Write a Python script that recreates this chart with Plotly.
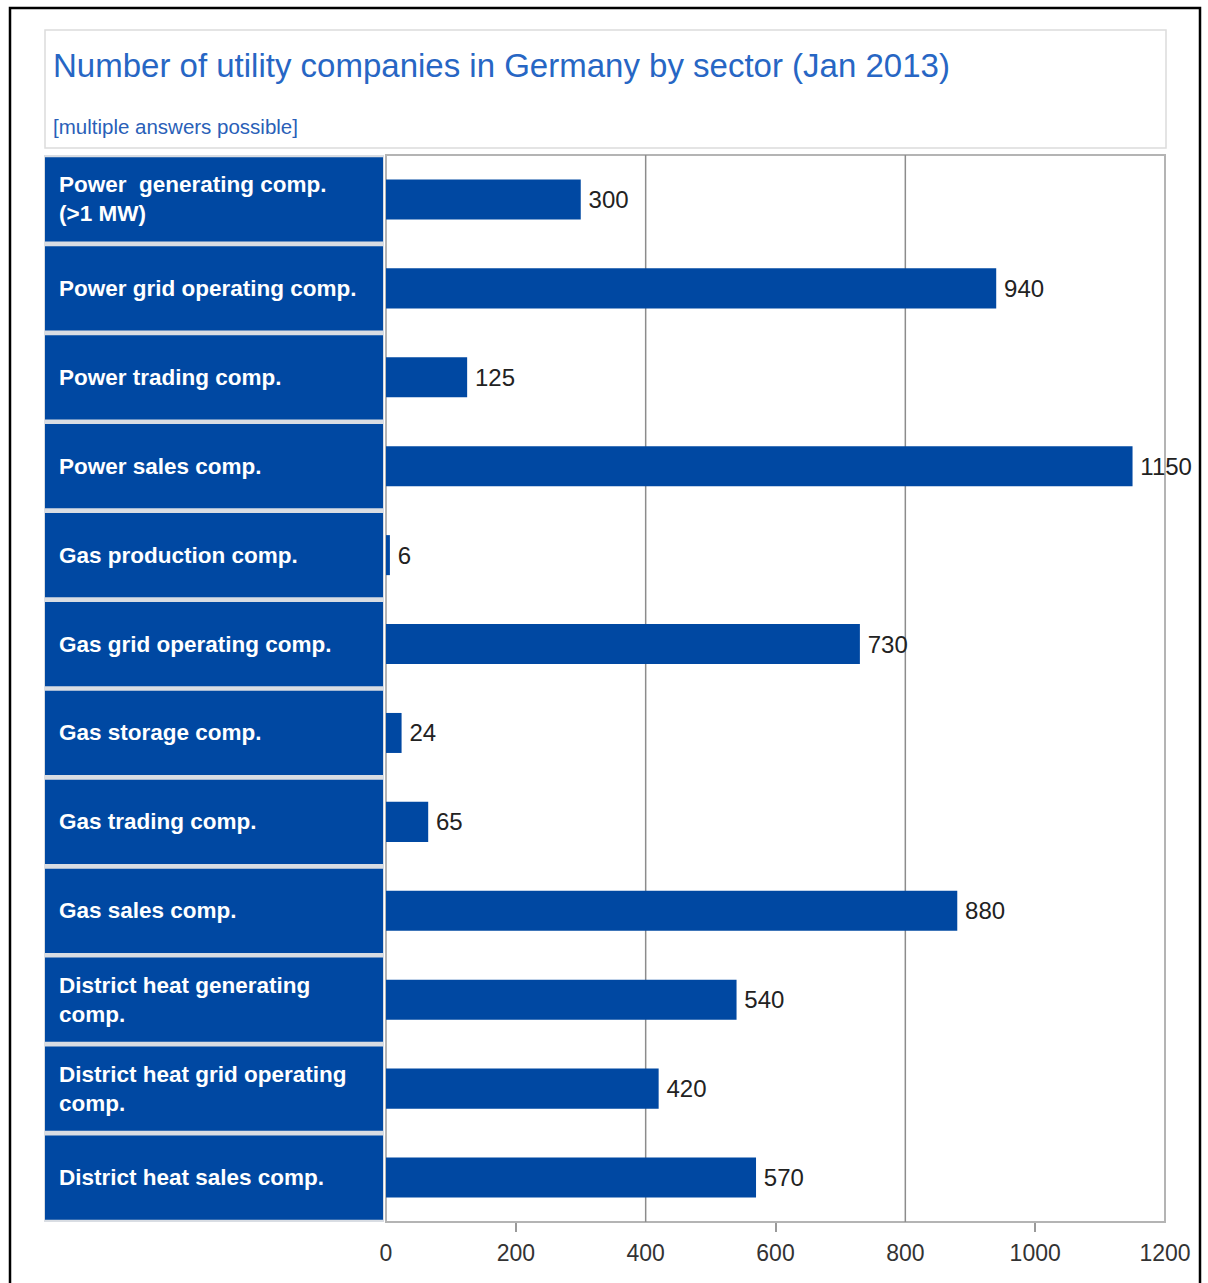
import plotly.graph_objects as go

# Sector names (left-hand label cells) and company counts
sectors = [
    "Power  generating comp.<br>(>1 MW)",
    "Power grid operating comp.",
    "Power trading comp.",
    "Power sales comp.",
    "Gas production comp.",
    "Gas grid operating comp.",
    "Gas storage comp.",
    "Gas trading comp.",
    "Gas sales comp.",
    "District heat generating<br>comp.",
    "District heat grid operating<br>comp.",
    "District heat sales comp.",
]
companies = [300, 940, 125, 1150, 6, 730, 24, 65, 880, 540, 420, 570]

tick_values = [0, 200, 400, 600, 800, 1000, 1200]
minor_tick_values = [200, 600, 1000]
grid_values = [400, 800]

title_text = "Number of utility companies in Germany by sector (Jan 2013)"
subtitle_text = "[multiple answers possible]"

BLUE = "#0048A2"
FONT = "Liberation Sans, Arial, sans-serif"

# Page geometry (pixels) -> paper coordinates helpers
W, H = 1208, 1283
PL, PR, PT, PB = 386, 1165, 155, 1222
PW, PH = PR - PL, PB - PT


def px_x(px):
    return (px - PL) / PW


def px_y(py):
    return (PB - py) / PH


fig = go.Figure()

ids = list(range(len(sectors)))

fig.add_trace(go.Bar(
    x=companies,
    y=ids,
    orientation="h",
    width=0.45,
    marker=dict(color=BLUE, line=dict(width=0)),
    text=[str(v) for v in companies],
    texttemplate="\u2009%{text}",
    textposition="outside",
    textfont=dict(family=FONT, size=24, color="#222222"),
    constraintext="none",
    cliponaxis=False,
    hoverinfo="skip",
))

shapes = []

# outer frame
shapes.append(dict(type="rect", xref="paper", yref="paper",
                   x0=px_x(10), x1=px_x(1200), y0=px_y(1295), y1=px_y(8),
                   line=dict(color="#000000", width=2.5), fillcolor="rgba(0,0,0,0)",
                   layer="below"))
# title box
shapes.append(dict(type="rect", xref="paper", yref="paper",
                   x0=px_x(45), x1=px_x(1166), y0=px_y(148), y1=px_y(30),
                   line=dict(color="#dcdcdc", width=1.5), fillcolor="#ffffff",
                   layer="below"))
# plot frame
shapes.append(dict(type="rect", xref="paper", yref="paper",
                   x0=0, x1=1, y0=0, y1=1,
                   line=dict(color="#b4b4b4", width=2), fillcolor="rgba(0,0,0,0)",
                   layer="below"))
# vertical grid lines
for g in grid_values:
    shapes.append(dict(type="line", xref="x", yref="paper",
                       x0=g, x1=g, y0=0, y1=1,
                       line=dict(color="#8c8c8c", width=1.5), layer="below"))

# label column background (separator colour) and blue cells
shapes.append(dict(type="rect", xref="paper", yref="paper",
                   x0=px_x(44), x1=px_x(384), y0=0, y1=1,
                   line=dict(width=0), fillcolor="#d9dde3", layer="above"))
gap = 0.026
for i in ids:
    shapes.append(dict(type="rect", xref="paper", yref="y",
                       x0=px_x(45), x1=px_x(383),
                       y0=i - 0.5 + gap, y1=i + 0.5 - gap,
                       line=dict(width=0), fillcolor=BLUE, layer="above"))

annotations = []
for i, name in zip(ids, sectors):
    annotations.append(dict(
        xref="paper", yref="y", x=px_x(57), y=i,
        xanchor="left", yanchor="middle", align="left",
        text="<b>" + name + "</b>", showarrow=False,
        font=dict(family=FONT, size=22.5, color="#ffffff"),
    ))

annotations.append(dict(
    xref="paper", yref="paper", x=px_x(51), y=px_y(66),
    xanchor="left", yanchor="middle", text=title_text, showarrow=False,
    font=dict(family=FONT, size=33, color="#2766c4"),
))
annotations.append(dict(
    xref="paper", yref="paper", x=px_x(51), y=px_y(126),
    xanchor="left", yanchor="middle", text=subtitle_text, showarrow=False,
    font=dict(family=FONT, size=20.5, color="#2a5fb8"),
))

fig.update_layout(
    width=W, height=H,
    margin=dict(l=PL, r=W - PR, t=PT, b=H - PB, pad=0),
    paper_bgcolor="#ffffff",
    plot_bgcolor="#ffffff",
    showlegend=False,
    bargap=0.55,
    shapes=shapes,
    annotations=annotations,
    xaxis=dict(
        range=[0, 1200],
        tickvals=tick_values,
        ticktext=[str(t) for t in tick_values],
        ticks="",
        showgrid=False,
        zeroline=False,
        showline=False,
        tickfont=dict(family=FONT, size=23, color="#333333"),
        ticklabelstandoff=15,
        minor=dict(tickvals=minor_tick_values, ticks="outside", ticklen=9,
                   tickcolor="#9a9a9a", tickwidth=1.5, showgrid=False),
        fixedrange=True,
    ),
    yaxis=dict(
        range=[len(sectors) - 0.5, -0.5],
        showticklabels=False,
        ticks="",
        showgrid=False,
        zeroline=False,
        showline=False,
        fixedrange=True,
    ),
)

fig.write_html("out.html")
